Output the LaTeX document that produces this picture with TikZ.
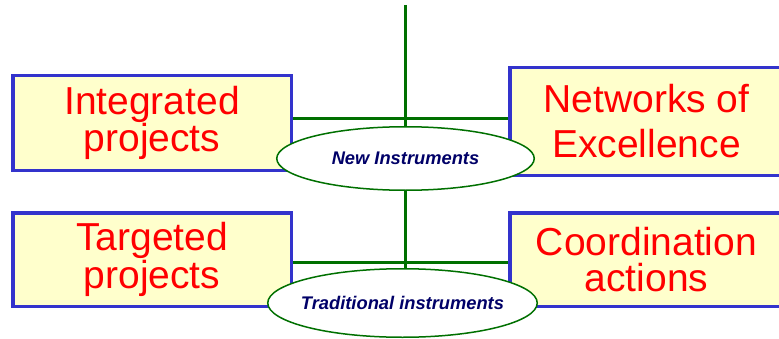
\documentclass[tikz,border=0pt]{standalone}
\usepackage{fontspec}
\setmainfont{Liberation Sans}
\usetikzlibrary{
  shapes.geometric,
  calc,
  positioning}
\definecolor{boxblue}{RGB}{51,51,204}
\definecolor{boxfill}{RGB}{255,255,204}
\definecolor{linkgreen}{RGB}{0,112,0}
\definecolor{instnavy}{RGB}{0,0,104}

\tikzset{
  instbox/.style={
    rectangle,
    draw=boxblue,
    fill=boxfill,
    line width=3.5pt,
    text=red,
    align=center,
    font=\fontsize{39}{36}\selectfont
  },
  instoval/.style={
    ellipse,
    draw=linkgreen,
    fill=white,
    line width=1.5pt,
    inner xsep=-40pt,
    inner ysep=0pt,
    text=instnavy,
    font=\fontsize{18.3}{20}\selectfont\bfseries\itshape
  },
  link/.style={
    draw=linkgreen,
    line width=3pt
  }
}

\begin{document}
\begin{tikzpicture}[x=1pt,y=1pt]%
  \useasboundingbox (0,0) rectangle (779,338);
  \clip (0,0) rectangle (779,338);

  % Boxes
  \node[
    instbox,
    minimum width=278.5pt,
    minimum height=94.5pt
  ] (ip) at (152,215) {Integrated\\projects};

  \node[
    instbox,
    font=\fontsize{39}{45}\selectfont,
    minimum width=273.5pt,
    minimum height=107.5pt
  ] (noe) at (646.5,216.5) {Networks of\\Excellence};

  \node[
    instbox,
    minimum width=278.5pt,
    minimum height=93.5pt
  ] (tp) at (152,78.5) {Targeted\\projects};

  \node[
    instbox,
    minimum width=273.5pt,
    minimum height=93.5pt
  ] (ca) at (646.5,78.5) {Coordination\\actions};

  % Instruments
  \node[
    instoval,
    minimum width=257.5pt,
    minimum height=63.5pt
  ] (newi) at (405.5,179.5) {New Instruments};

  \node[
    instoval,
    minimum width=269.5pt,
    minimum height=68.5pt
  ] (tradi) at (402.5,35) {Traditional instruments};

  % Links
  \coordinate (top) at (405,333);
  \coordinate (hub1) at (405,219);
  \coordinate (hub2) at (405,76);

  \draw[link] (top) -- (top |- newi.north);
  \draw[link] (hub1 -| ip.east) -- (hub1 -| noe.west);
  \draw[link] (top |- newi.south) -- (top |- tradi.north);
  \draw[link] (hub2 -| tp.east) -- (hub2 -| ca.west);

\end{tikzpicture}
\end{document}
